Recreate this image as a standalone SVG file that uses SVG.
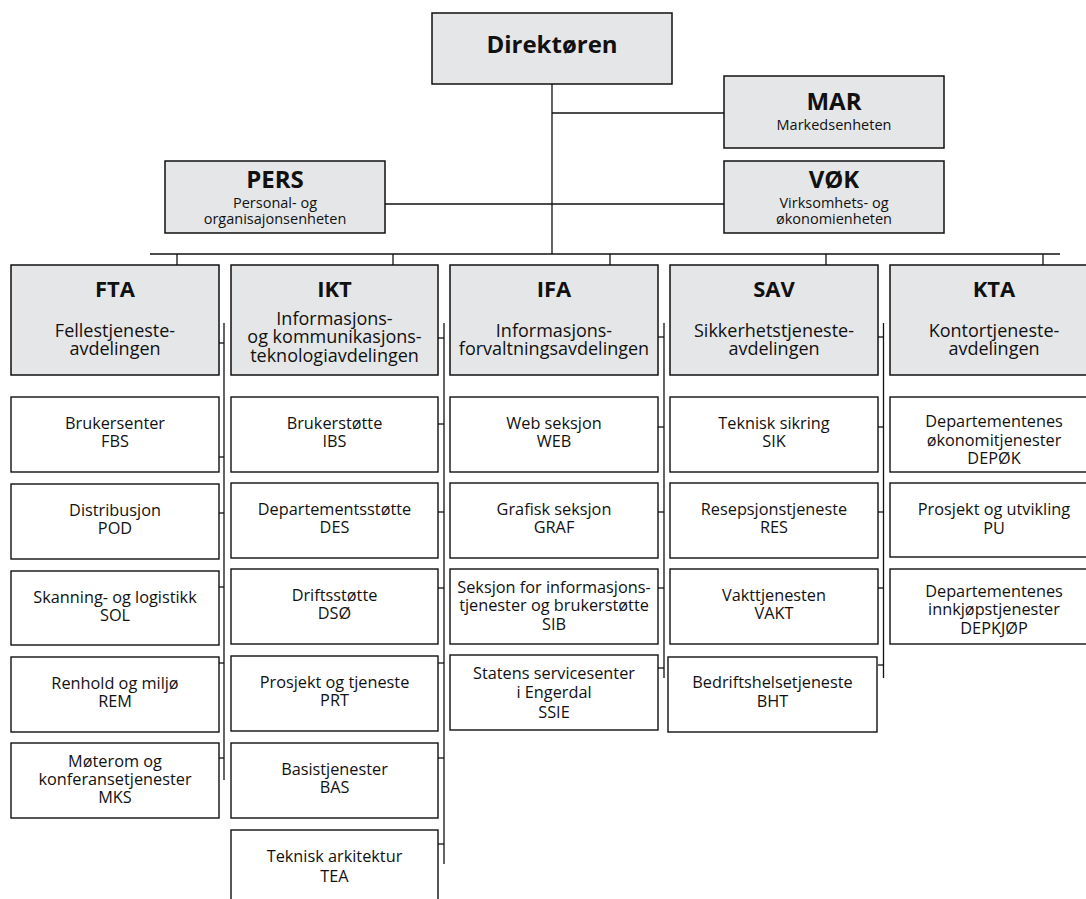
<svg xmlns="http://www.w3.org/2000/svg" width="1086" height="899" viewBox="0 0 1086 899">
<style>
text{font-family:"Open Sans","Noto Sans","Liberation Sans",sans-serif;fill:#111;text-anchor:middle}
.g{fill:#e5e6e7;stroke:#111;stroke-width:1.5}
.w{fill:#fff;stroke:#111;stroke-width:1.4}
.top{font-size:24px;font-weight:bold}
.ts{font-size:14.5px}
.h{font-size:22px;font-weight:bold}
.hs{font-size:18px}
.t{font-size:16.3px}
#connectors line{stroke:#111;stroke-width:1.3}
</style>
<rect width="1086" height="899" fill="#fff"/>
<g id="connectors">
<line x1="552" y1="84" x2="552" y2="254"/>
<line x1="552" y1="113" x2="724" y2="113"/>
<line x1="385" y1="204" x2="724" y2="204"/>
<line x1="150" y1="254" x2="1060" y2="254"/>
<line x1="177" y1="254" x2="177" y2="265"/>
<line x1="393" y1="254" x2="393" y2="265"/>
<line x1="610" y1="254" x2="610" y2="265"/>
<line x1="826" y1="254" x2="826" y2="265"/>
<line x1="1043" y1="254" x2="1043" y2="265"/>
<line x1="224" y1="323" x2="224" y2="780"/>
<line x1="219" y1="343" x2="224" y2="343"/>
<line x1="219" y1="457" x2="224" y2="457"/>
<line x1="219" y1="513" x2="224" y2="513"/>
<line x1="219" y1="587" x2="224" y2="587"/>
<line x1="219" y1="663" x2="224" y2="663"/>
<line x1="219" y1="758" x2="224" y2="758"/>
<line x1="444" y1="323" x2="444" y2="864"/>
<line x1="438" y1="338" x2="444" y2="338"/>
<line x1="438" y1="424" x2="444" y2="424"/>
<line x1="438" y1="512" x2="444" y2="512"/>
<line x1="438" y1="588" x2="444" y2="588"/>
<line x1="438" y1="663" x2="444" y2="663"/>
<line x1="438" y1="758" x2="444" y2="758"/>
<line x1="438" y1="844" x2="444" y2="844"/>
<line x1="664" y1="323" x2="664" y2="678"/>
<line x1="658" y1="337" x2="664" y2="337"/>
<line x1="658" y1="427" x2="664" y2="427"/>
<line x1="658" y1="512" x2="664" y2="512"/>
<line x1="658" y1="588" x2="664" y2="588"/>
<line x1="658" y1="668" x2="664" y2="668"/>
<line x1="883.5" y1="323" x2="883.5" y2="678"/>
<line x1="878" y1="337" x2="883.5" y2="337"/>
<line x1="878" y1="427" x2="883.5" y2="427"/>
<line x1="878" y1="512" x2="883.5" y2="512"/>
<line x1="878" y1="588" x2="883.5" y2="588"/>
<line x1="878" y1="665" x2="883.5" y2="665"/>
</g>
<g id="direktoren"><rect class="g" x="432" y="13" width="240" height="71"/><text class="top" x="552" y="53">Direktøren</text></g>
<g id="mar"><rect class="g" x="724" y="76" width="220" height="72"/><text x="834" y="110"><tspan class="top">MAR</tspan><tspan class="ts" x="834" y="130">Markedsenheten</tspan></text></g>
<g id="pers"><rect class="g" x="165" y="161" width="220" height="72"/><text x="275" y="188"><tspan class="top">PERS</tspan><tspan class="ts" x="275" y="208">Personal- og</tspan><tspan class="ts" x="275" y="224">organisajonsenheten</tspan></text></g>
<g id="vok"><rect class="g" x="724" y="161" width="220" height="72"/><text x="834" y="188"><tspan class="top">VØK</tspan><tspan class="ts" x="834" y="208">Virksomhets- og</tspan><tspan class="ts" x="834" y="224">økonomienheten</tspan></text></g>

<g id="fta"><rect class="g" x="11" y="265" width="208" height="110"/><text class="h" x="115" y="297">FTA</text><text class="hs" x="115" y="337">Fellestjeneste-<tspan x="115" y="355">avdelingen</tspan></text></g>
<g id="ikt"><rect class="g" x="231" y="265" width="207" height="110"/><text class="h" x="334.5" y="297">IKT</text><text class="hs" x="334.5" y="325">Informasjons-<tspan x="334.5" y="343">og kommunikasjons-</tspan><tspan x="334.5" y="361.5">teknologiavdelingen</tspan></text></g>
<g id="ifa"><rect class="g" x="450" y="265" width="208" height="110"/><text class="h" x="554" y="297">IFA</text><text class="hs" x="554" y="337">Informasjons-<tspan x="554" y="355">forvaltningsavdelingen</tspan></text></g>
<g id="sav"><rect class="g" x="670" y="265" width="208" height="110"/><text class="h" x="774" y="297">SAV</text><text class="hs" x="774" y="337">Sikkerhetstjeneste-<tspan x="774" y="355">avdelingen</tspan></text></g>
<g id="kta"><rect class="g" x="890" y="265" width="208" height="110"/><text class="h" x="994" y="297">KTA</text><text class="hs" x="994" y="337">Kontortjeneste-<tspan x="994" y="355">avdelingen</tspan></text></g>

<g id="fbs"><rect class="w" x="11" y="397" width="208" height="75"/><text class="t" x="115" y="428.5">Brukersenter<tspan x="115" y="447">FBS</tspan></text></g>
<g id="pod"><rect class="w" x="11" y="484" width="208" height="75"/><text class="t" x="115" y="515.5">Distribusjon<tspan x="115" y="534">POD</tspan></text></g>
<g id="sol"><rect class="w" x="11" y="571" width="208" height="74"/><text class="t" x="115" y="602.5">Skanning- og logistikk<tspan x="115" y="621">SOL</tspan></text></g>
<g id="rem"><rect class="w" x="11" y="657" width="208" height="75"/><text class="t" x="115" y="688.5">Renhold og miljø<tspan x="115" y="707">REM</tspan></text></g>
<g id="mks"><rect class="w" x="11" y="743" width="208" height="75"/><text class="t" x="115" y="767">Møterom og<tspan x="115" y="785">konferansetjenester</tspan><tspan x="115" y="803">MKS</tspan></text></g>

<g id="ibs"><rect class="w" x="231" y="397" width="207" height="75"/><text class="t" x="334.5" y="428.5">Brukerstøtte<tspan x="334.5" y="447">IBS</tspan></text></g>
<g id="des"><rect class="w" x="231" y="483" width="207" height="75"/><text class="t" x="334.5" y="514.5">Departementsstøtte<tspan x="334.5" y="533">DES</tspan></text></g>
<g id="dso"><rect class="w" x="231" y="569" width="207" height="75"/><text class="t" x="334.5" y="600.5">Driftsstøtte<tspan x="334.5" y="619">DSØ</tspan></text></g>
<g id="prt"><rect class="w" x="231" y="656" width="207" height="75"/><text class="t" x="334.5" y="687.5">Prosjekt og tjeneste<tspan x="334.5" y="706">PRT</tspan></text></g>
<g id="bas"><rect class="w" x="231" y="743" width="207" height="75"/><text class="t" x="334.5" y="774.5">Basistjenester<tspan x="334.5" y="793">BAS</tspan></text></g>
<g id="tea"><rect class="w" x="231" y="830" width="207" height="75"/><text class="t" x="334.5" y="862">Teknisk arkitektur<tspan x="334.5" y="881.5">TEA</tspan></text></g>

<g id="web"><rect class="w" x="450" y="397" width="208" height="75"/><text class="t" x="554" y="428.5">Web seksjon<tspan x="554" y="447">WEB</tspan></text></g>
<g id="graf"><rect class="w" x="450" y="483" width="208" height="75"/><text class="t" x="554" y="514.5">Grafisk seksjon<tspan x="554" y="533">GRAF</tspan></text></g>
<g id="sib"><rect class="w" x="450" y="569" width="208" height="75"/><text class="t" x="554" y="592.5">Seksjon for informasjons-<tspan x="554" y="611">tjenester og brukerstøtte</tspan><tspan x="554" y="630">SIB</tspan></text></g>
<g id="ssie"><rect class="w" x="450" y="655" width="208" height="75"/><text class="t" x="554" y="679">Statens servicesenter<tspan x="554" y="698">i Engerdal</tspan><tspan x="554" y="717.5">SSIE</tspan></text></g>

<g id="sik"><rect class="w" x="670" y="397" width="208" height="75"/><text class="t" x="774" y="428.5">Teknisk sikring<tspan x="774" y="447">SIK</tspan></text></g>
<g id="res"><rect class="w" x="670" y="483" width="208" height="75"/><text class="t" x="774" y="514.5">Resepsjonstjeneste<tspan x="774" y="533">RES</tspan></text></g>
<g id="vakt"><rect class="w" x="670" y="569" width="208" height="75"/><text class="t" x="774" y="600.5">Vakttjenesten<tspan x="774" y="619">VAKT</tspan></text></g>
<g id="bht"><rect class="w" x="668" y="657" width="209" height="75"/><text class="t" x="772.5" y="687.5">Bedriftshelsetjeneste<tspan x="772.5" y="706.5">BHT</tspan></text></g>

<g id="depok"><rect class="w" x="890" y="397" width="208" height="75"/><text class="t" x="994" y="426.5">Departementenes<tspan x="994" y="445.5">økonomitjenester</tspan><tspan x="994" y="464">DEPØK</tspan></text></g>
<g id="pu"><rect class="w" x="890" y="483" width="208" height="74"/><text class="t" x="994" y="515">Prosjekt og utvikling<tspan x="994" y="533.5">PU</tspan></text></g>
<g id="depkjop"><rect class="w" x="890" y="569" width="208" height="75"/><text class="t" x="994" y="596.5">Departementenes<tspan x="994" y="615">innkjøpstjenester</tspan><tspan x="994" y="633.5">DEPKJØP</tspan></text></g>
</svg>
